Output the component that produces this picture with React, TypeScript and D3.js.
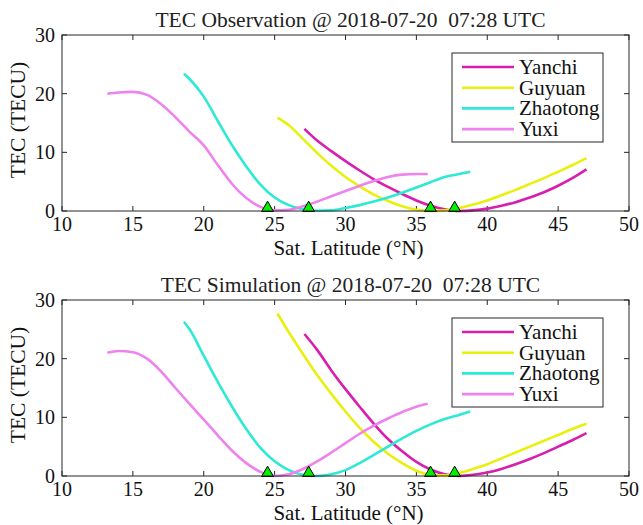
import * as d3 from 'd3';

// station names and colours (legend order)
const stations = ['Yanchi', 'Guyuan', 'Zhaotong', 'Yuxi'];
const colors = ['#d81eae', '#e9f00e', '#2de9d6', '#ee82ee'];

// observation curves: [sat latitude, TEC]
const obsYanchi: [number, number][] = [
  [27.1, 14], [28, 12], [29, 10.2], [30, 8.5], [31, 6.9], [32, 5.4], [33, 4.1], [34, 2.9], [35, 1.8],
  [36, 0.9], [37, 0.3], [38, 0], [39, 0.1], [40, 0.4], [41, 0.9], [42, 1.5], [43, 2.3], [44, 3.2],
  [45, 4.3], [46, 5.6], [47, 7.1],
];
const obsGuyuan: [number, number][] = [
  [25.2, 15.9], [26, 14.6], [27, 12.3], [28, 9.9], [29, 7.7], [30, 5.8], [31, 4.2], [32, 2.8], [33, 1.7],
  [34, 0.8], [35, 0.2], [36, 0], [37, 0.1], [38, 0.5], [39, 1.1], [40, 1.8], [41, 2.7], [42, 3.6],
  [43, 4.6], [44, 5.6], [45, 6.7], [46, 7.8], [47, 9],
];
const obsZhaotong: [number, number][] = [
  [18.6, 23.4], [19, 22.5], [20, 19.5], [21, 15.3], [22, 11.2], [23, 7.6], [24, 4.5], [25, 2.3], [26, 1],
  [27, 0.3], [28, 0.05], [29, 0.1], [30, 0.5], [31, 1], [32, 1.6], [33, 2.3], [34, 3.1], [35, 4],
  [36, 4.9], [37, 5.8], [38, 6.3], [38.8, 6.7],
];
const obsYuxi: [number, number][] = [
  [13.2, 20], [14, 20.2], [15, 20.3], [16, 19.8], [17, 18.2], [18, 16], [19, 13.5], [20, 11.2], [21, 7.8],
  [22, 4.6], [23, 2.2], [24, 0.7], [25, 0.1], [26, 0.2], [27, 0.8], [28, 1.6], [29, 2.5], [30, 3.4],
  [31, 4.3], [32, 5.1], [33, 5.8], [34, 6.2], [35, 6.3], [35.8, 6.3],
];

// simulation curves
const simYanchi: [number, number][] = [
  [27.1, 24.2], [28, 21.5], [29, 18], [30, 14.8], [31, 11.8], [32, 8.9], [33, 6.3], [34, 4.2], [35, 2.4],
  [36, 1.1], [37, 0.3], [38, 0], [39, 0.2], [40, 0.6], [41, 1.2], [42, 2], [43, 2.9], [44, 3.9],
  [45, 5], [46, 6.1], [47, 7.3],
];
const simGuyuan: [number, number][] = [
  [25.2, 27.7], [26, 24.5], [27, 20.8], [28, 17.2], [29, 14], [30, 11], [31, 8.2], [32, 5.8], [33, 3.8],
  [34, 2.2], [35, 0.9], [36, 0.2], [37, 0.1], [38, 0.5], [39, 1.2], [40, 2], [41, 3], [42, 4],
  [43, 5], [44, 6], [45, 7], [46, 8], [47, 8.9],
];
const simZhaotong: [number, number][] = [
  [18.6, 26.3], [19, 25], [20, 20.5], [21, 16], [22, 11.8], [23, 8], [24, 4.8], [25, 2.5], [26, 1],
  [27, 0.2], [28, 0], [29, 0.3], [30, 1], [31, 2.2], [32, 3.6], [33, 5], [34, 6.4], [35, 7.7],
  [36, 8.8], [37, 9.7], [38, 10.4], [38.8, 11],
];
const simYuxi: [number, number][] = [
  [13.2, 21], [14, 21.3], [15, 21.1], [16, 20], [17, 17.8], [18, 15], [19, 12.3], [20, 9.6], [21, 6.9],
  [22, 4.3], [23, 2.2], [24, 0.7], [25, 0], [26, 0.3], [27, 1.2], [28, 2.5], [29, 4], [30, 5.6],
  [31, 7.2], [32, 8.6], [33, 9.8], [34, 10.9], [35, 11.8], [35.8, 12.3],
];

// station latitudes marked with triangles
const markerLats = [24.5, 27.4, 36.0, 37.7];
const markerTec = 0.5;

const xTicks = [10, 15, 20, 25, 30, 35, 40, 45, 50];
const yTicks = [0, 10, 20, 30];

const W = 643;
const H = 525;
const FONT = 'Liberation Serif';
const AX = '#262626';

interface PanelProps {
  title: string;
  series: [number, number][][];
  top: number;
}

function Panel({ title, series, top }: PanelProps) {
  const left = 62;
  const right = 629;
  const h = 176;
  const x = d3.scaleLinear().domain([10, 50]).range([left, right]);
  const y = d3.scaleLinear().domain([0, 30]).range([top + h, top]);
  const line = d3.line<[number, number]>()
    .x(d => x(d[0]))
    .y(d => y(d[1]))
    .curve(d3.curveMonotoneX);
  const tri = d3.symbol().type(d3.symbolTriangle).size(62)();

  const lx = 452;
  const ly = top + 18;
  return (
    <g fontFamily={FONT}>
      <text x={(left + right) / 2 + 5} y={top - 8} textAnchor="middle" fontSize={21.5} fill="#222" style={{ whiteSpace: 'pre' }}>{title}</text>
      {/* ticks */}
      {xTicks.map(t => (
        <g key={'x' + t}>
          <line x1={x(t)} x2={x(t)} y1={top + h} y2={top + h - 5} stroke={AX} />
          <line x1={x(t)} x2={x(t)} y1={top} y2={top + 5} stroke={AX} />
          <text x={x(t)} y={top + h + 20} textAnchor="middle" fontSize={20} fill="#111">{t}</text>
        </g>
      ))}
      {yTicks.map(t => (
        <g key={'y' + t}>
          <line x1={left} x2={left + 5} y1={y(t)} y2={y(t)} stroke={AX} />
          <line x1={right} x2={right - 5} y1={y(t)} y2={y(t)} stroke={AX} />
          <text x={left - 7} y={y(t) + 7} textAnchor="end" fontSize={20} fill="#111">{t}</text>
        </g>
      ))}
      <text x={(left + right) / 2 + 3} y={top + h + 44} textAnchor="middle" fontSize={21} fill="#111">Sat. Latitude (°N)</text>
      <text transform={`translate(25,${top + h / 2 - 3}) rotate(-90)`} textAnchor="middle" fontSize={21.5} fill="#111">TEC (TECU)</text>
      {/* curves */}
      {series.map((s, i) => (
        <path key={i} d={line(s) || ''} fill="none" stroke={colors[i]} strokeWidth={2.6} />
      ))}
      {markerLats.map(m => (
        <path key={m} d={tri || ''} transform={`translate(${x(m)},${y(markerTec)})`} fill="#00f000" stroke="#000" strokeWidth={1} />
      ))}
      <rect x={left} y={top} width={right - left} height={h} fill="none" stroke={AX} strokeWidth={1} />
      {/* legend */}
      <rect x={lx} y={ly} width={151} height={89} fill="#fff" stroke={AX} strokeWidth={1} />
      {stations.map((s, i) => (
        <g key={s}>
          <line x1={lx + 10} x2={lx + 62} y1={ly + 14 + i * 20.7} y2={ly + 14 + i * 20.7} stroke={colors[i]} strokeWidth={2.6} />
          <text x={lx + 67} y={ly + 14 + i * 20.7 + 7} fontSize={21} fill="#111">{s}</text>
        </g>
      ))}
    </g>
  );
}

export default function App() {
  return (
    <svg width={W} height={H} style={{ position: 'absolute', left: 0, top: 0, background: '#fff' }}>
      <rect width={W} height={H} fill="#fff" />
      <Panel title="TEC Observation @ 2018-07-20  07:28 UTC" series={[obsYanchi, obsGuyuan, obsZhaotong, obsYuxi]} top={35} />
      <Panel title="TEC Simulation @ 2018-07-20  07:28 UTC" series={[simYanchi, simGuyuan, simZhaotong, simYuxi]} top={300} />
    </svg>
  );
}
